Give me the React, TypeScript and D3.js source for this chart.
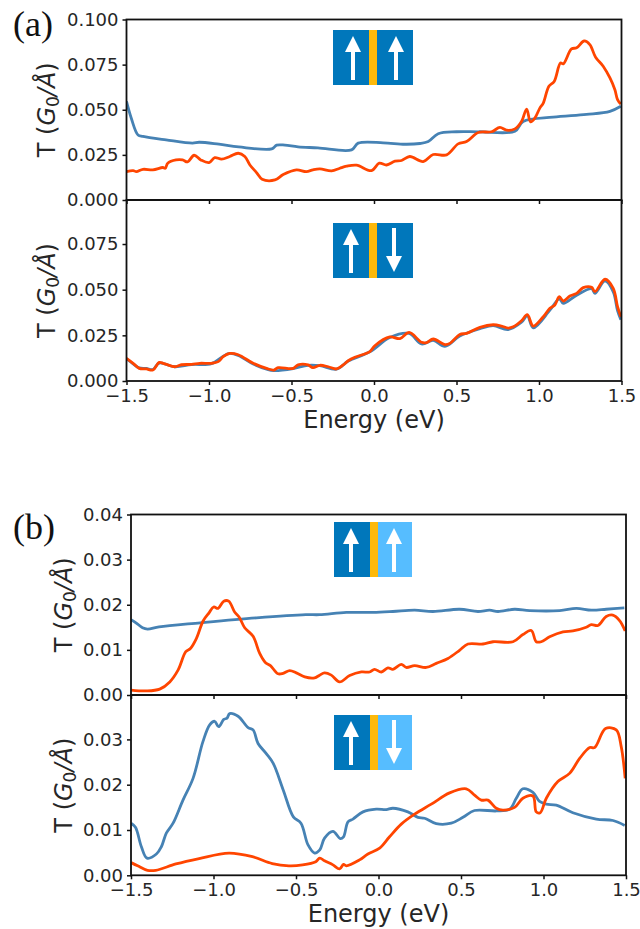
import React, { useEffect, useRef } from "react";
import * as d3 from "d3";

// energy / transmission pairs, one pair of arrays per curve
const a1BlueE = [-1.5, -1.47, -1.43, -1.4, -1.26, -1.1, -1.06, -0.94, -0.82, -0.62, -0.59, -0.54, -0.46, -0.34, -0.136, -0.096, 0.056, 0.187, 0.278, 0.329, 0.389, 0.5, 0.64, 0.854, 0.904, 1.086, 1.288, 1.43, 1.496];
const a1BlueT = [0.0546, 0.045, 0.036, 0.0352, 0.0333, 0.0315, 0.032, 0.0309, 0.0294, 0.0283, 0.0304, 0.0304, 0.0294, 0.0289, 0.0278, 0.0315, 0.0317, 0.0309, 0.0313, 0.0324, 0.0367, 0.0378, 0.0378, 0.0381, 0.0435, 0.0459, 0.0474, 0.0491, 0.0519];
const a1OrangeE = [-1.5, -1.46, -1.44, -1.4, -1.34, -1.28, -1.265, -1.25, -1.2, -1.16, -1.13, -1.09, -1.05, -1.0, -0.965, -0.924, -0.874, -0.823, -0.783, -0.752, -0.712, -0.678, -0.6, -0.55, -0.47, -0.41, -0.37, -0.328, -0.257, -0.207, -0.166, -0.106, -0.015, 0.032, 0.076, 0.127, 0.167, 0.217, 0.298, 0.359, 0.44, 0.51, 0.561, 0.632, 0.712, 0.763, 0.803, 0.854, 0.894, 0.925, 0.949, 0.975, 1.005, 1.026, 1.06, 1.092, 1.13, 1.147, 1.197, 1.228, 1.274, 1.308, 1.343, 1.389, 1.43, 1.46, 1.476, 1.496];
const a1OrangeT = [0.0157, 0.0163, 0.0157, 0.017, 0.0167, 0.018, 0.0176, 0.0204, 0.0222, 0.0222, 0.0211, 0.0248, 0.0222, 0.0207, 0.0235, 0.0226, 0.0241, 0.0259, 0.0241, 0.0194, 0.0152, 0.0115, 0.0111, 0.0141, 0.0167, 0.0157, 0.0167, 0.0172, 0.0161, 0.0176, 0.0187, 0.0193, 0.0163, 0.0204, 0.0194, 0.0215, 0.0219, 0.0241, 0.0213, 0.0252, 0.025, 0.0311, 0.0324, 0.0374, 0.0378, 0.0402, 0.0387, 0.0394, 0.0435, 0.0504, 0.0433, 0.0454, 0.0509, 0.0537, 0.063, 0.0657, 0.0759, 0.0754, 0.0837, 0.0843, 0.0881, 0.0861, 0.0791, 0.0741, 0.0676, 0.0611, 0.0556, 0.0531];

const a2OrangeE = [-1.5, -1.46, -1.423, -1.38, -1.34, -1.302, -1.278, -1.258, -1.207, -1.167, -1.106, -1.056, -0.985, -0.944, -0.914, -0.874, -0.823, -0.732, -0.651, -0.607, -0.581, -0.49, -0.46, -0.4, -0.37, -0.328, -0.277, -0.227, -0.187, -0.156, -0.116, -0.025, 0.005, 0.096, 0.157, 0.213, 0.288, 0.319, 0.359, 0.43, 0.46, 0.52, 0.561, 0.642, 0.722, 0.773, 0.813, 0.844, 0.894, 0.929, 0.965, 1.026, 1.066, 1.096, 1.123, 1.147, 1.187, 1.228, 1.268, 1.319, 1.339, 1.4, 1.45, 1.476, 1.496];
const a2OrangeT = [0.0124, 0.0097, 0.0069, 0.0066, 0.006, 0.0102, 0.0097, 0.0091, 0.0078, 0.0089, 0.0091, 0.0097, 0.0097, 0.0106, 0.0133, 0.0151, 0.0144, 0.0097, 0.0069, 0.006, 0.0073, 0.0069, 0.0088, 0.0088, 0.0073, 0.0086, 0.0078, 0.0066, 0.0088, 0.0111, 0.013, 0.0161, 0.0193, 0.0241, 0.0232, 0.0266, 0.0212, 0.021, 0.023, 0.0199, 0.0206, 0.0255, 0.0261, 0.0294, 0.0308, 0.0301, 0.029, 0.0297, 0.033, 0.0363, 0.0301, 0.0352, 0.0398, 0.0416, 0.0462, 0.0438, 0.0465, 0.048, 0.0511, 0.0513, 0.0489, 0.0557, 0.0507, 0.0407, 0.0352];
const a2BlueE = [-1.5, -1.46, -1.423, -1.38, -1.34, -1.302, -1.207, -1.106, -0.985, -0.914, -0.874, -0.823, -0.732, -0.651, -0.607, -0.49, -0.4, -0.328, -0.227, -0.156, -0.025, 0.096, 0.213, 0.288, 0.359, 0.43, 0.52, 0.642, 0.722, 0.813, 0.894, 0.929, 0.965, 1.066, 1.123, 1.147, 1.228, 1.319, 1.339, 1.4, 1.45, 1.476, 1.496];
const a2BlueT = [0.0122, 0.0094, 0.0072, 0.0069, 0.0063, 0.0098, 0.0078, 0.009, 0.0095, 0.0136, 0.0151, 0.014, 0.0093, 0.0065, 0.0057, 0.0068, 0.0086, 0.0084, 0.0065, 0.0109, 0.016, 0.0238, 0.026, 0.0203, 0.0222, 0.019, 0.0246, 0.0286, 0.0303, 0.0282, 0.0322, 0.0357, 0.0291, 0.0388, 0.045, 0.0425, 0.047, 0.0505, 0.048, 0.0548, 0.0488, 0.0385, 0.0335];

const b1BlueE = [-1.5, -1.47, -1.43, -1.4, -1.33, -1.08, -0.74, -0.44, -0.357, -0.195, -0.034, 0.087, 0.219, 0.33, 0.491, 0.603, 0.673, 0.724, 0.825, 0.916, 1.098, 1.199, 1.29, 1.38, 1.49];
const b1BlueT = [0.0167, 0.016, 0.0149, 0.0146, 0.0151, 0.016, 0.0171, 0.0178, 0.0178, 0.0183, 0.0183, 0.0185, 0.0188, 0.0185, 0.019, 0.0185, 0.0188, 0.0185, 0.019, 0.0187, 0.0187, 0.0192, 0.0188, 0.019, 0.0193];
const b1OrangeE = [-1.5, -1.407, -1.326, -1.265, -1.215, -1.168, -1.14, -1.104, -1.063, -1.027, -0.999, -0.972, -0.938, -0.908, -0.872, -0.845, -0.811, -0.76, -0.72, -0.686, -0.655, -0.609, -0.578, -0.538, -0.498, -0.447, -0.387, -0.357, -0.327, -0.286, -0.236, -0.175, -0.104, -0.054, -0.024, 0.017, 0.057, 0.087, 0.138, 0.168, 0.219, 0.289, 0.35, 0.421, 0.491, 0.542, 0.633, 0.694, 0.815, 0.875, 0.926, 0.956, 0.986, 1.037, 1.118, 1.178, 1.259, 1.29, 1.33, 1.38, 1.42, 1.461, 1.495];
const b1OrangeT = [0.0011, 0.0009, 0.0013, 0.0029, 0.0055, 0.0096, 0.0103, 0.0125, 0.0164, 0.0182, 0.0195, 0.0192, 0.0208, 0.0208, 0.0184, 0.0173, 0.0149, 0.013, 0.0092, 0.0072, 0.0065, 0.0047, 0.0048, 0.0054, 0.0049, 0.004, 0.0038, 0.0044, 0.0049, 0.0044, 0.0029, 0.0043, 0.0051, 0.0051, 0.0057, 0.0051, 0.006, 0.0057, 0.0068, 0.0061, 0.0065, 0.0061, 0.007, 0.0081, 0.0099, 0.0113, 0.0113, 0.0118, 0.0118, 0.0134, 0.0143, 0.0118, 0.0118, 0.0129, 0.014, 0.0142, 0.015, 0.0156, 0.0154, 0.0174, 0.0177, 0.0165, 0.0142];

const b2BlueE = [-1.5, -1.473, -1.437, -1.403, -1.346, -1.316, -1.286, -1.245, -1.185, -1.124, -1.064, -1.023, -0.993, -0.969, -0.938, -0.918, -0.902, -0.851, -0.79, -0.76, -0.73, -0.679, -0.638, -0.577, -0.516, -0.47, -0.427, -0.387, -0.356, -0.327, -0.276, -0.232, -0.212, -0.185, -0.155, -0.094, -0.014, 0.047, 0.087, 0.178, 0.239, 0.279, 0.35, 0.441, 0.512, 0.582, 0.714, 0.795, 0.835, 0.875, 0.936, 0.976, 1.017, 1.077, 1.178, 1.32, 1.421, 1.492];
const b2BlueT = [0.0115, 0.0106, 0.0063, 0.0038, 0.0047, 0.0063, 0.0093, 0.0115, 0.0166, 0.0214, 0.0295, 0.0332, 0.034, 0.0328, 0.0344, 0.0347, 0.0357, 0.0351, 0.0326, 0.0321, 0.0291, 0.0268, 0.0247, 0.0188, 0.0129, 0.0115, 0.0067, 0.0049, 0.0056, 0.0082, 0.0097, 0.0081, 0.0085, 0.0118, 0.0124, 0.014, 0.0146, 0.0145, 0.0148, 0.014, 0.0128, 0.0126, 0.0114, 0.0115, 0.0128, 0.0143, 0.0142, 0.0146, 0.017, 0.0191, 0.0183, 0.0163, 0.0157, 0.0155, 0.0138, 0.0124, 0.0121, 0.011];
const b2OrangeE = [-1.5, -1.46, -1.4, -1.35, -1.228, -1.087, -0.906, -0.764, -0.644, -0.543, -0.46, -0.38, -0.356, -0.327, -0.276, -0.236, -0.212, -0.195, -0.115, -0.064, 0.007, 0.067, 0.138, 0.219, 0.32, 0.431, 0.532, 0.582, 0.623, 0.663, 0.714, 0.754, 0.825, 0.875, 0.936, 0.956, 0.98, 1.017, 1.087, 1.158, 1.219, 1.28, 1.31, 1.376, 1.441, 1.471, 1.495];
const b2OrangeT = [0.0028, 0.0021, 0.0011, 0.0011, 0.0025, 0.0037, 0.0049, 0.0041, 0.0026, 0.0021, 0.0023, 0.003, 0.0038, 0.0032, 0.0023, 0.0014, 0.0024, 0.0021, 0.0034, 0.0047, 0.006, 0.0085, 0.0113, 0.0135, 0.0157, 0.0182, 0.0191, 0.0177, 0.0166, 0.0166, 0.0148, 0.0144, 0.015, 0.017, 0.0175, 0.014, 0.0138, 0.017, 0.0207, 0.0225, 0.0258, 0.0282, 0.0282, 0.0324, 0.0321, 0.0284, 0.0214];

const xTicks = [-1.5, -1.0, -0.5, 0.0, 0.5, 1.0, 1.5];
const aTicks = [0, 0.025, 0.05, 0.075, 0.1];
const bTicks = [0, 0.01, 0.02, 0.03, 0.04];

const BLUE = "#4682b4";
const ORANGE = "#ff4500";
const TEXT = "#262626";
const FONT = "'DejaVu Sans', sans-serif";

const App = () => {
  const svgRef = useRef<SVGSVGElement>(null);

  useEffect(() => {
    const svg = d3.select(svgRef.current);
    svg.selectAll("*").remove();

    const line = (x: any, y: any) =>
      d3.line<[number, number]>()
        .curve(d3.curveCatmullRom.alpha(0.5))
        .x((d) => x(d[0]))
        .y((d) => y(d[1]));

    const drawPanel = (p: any, i: number) => {
      const x = d3.scaleLinear().domain([-1.5, 1.5]).range([p.left, p.right]);
      const y = d3.scaleLinear().domain([0, p.yMax]).range([p.bottom, p.top]);
      const clip = "clip" + i;
      svg.append("clipPath").attr("id", clip).append("rect")
        .attr("x", p.left).attr("y", p.top)
        .attr("width", p.right - p.left).attr("height", p.bottom - p.top);

      const curves = [[p.blueE, p.blueT, BLUE], [p.orangeE, p.orangeT, ORANGE]];
      curves.forEach(([es, ts, colour]: any) => {
        svg.append("path")
          .datum(d3.zip(es, ts) as [number, number][])
          .attr("clip-path", "url(#" + clip + ")")
          .attr("fill", "none")
          .attr("stroke", colour)
          .attr("stroke-width", 2.8)
          .attr("stroke-linejoin", "round")
          .attr("d", line(x, y));
      });

      svg.append("rect")
        .attr("x", p.left).attr("y", p.top)
        .attr("width", p.right - p.left).attr("height", p.bottom - p.top)
        .attr("fill", "none").attr("stroke", "#111").attr("stroke-width", 1.8);

      const xAxis = svg.append("g")
        .attr("transform", "translate(0," + p.bottom + ")")
        .call(
          d3.axisBottom(x).tickValues(xTicks).tickSize(4).tickPadding(4)
            .tickFormat(p.showX ? (d: any) => d3.format(".1f")(d).replace("-", "\u2212") : () => "")
        );
      const yAxis = svg.append("g")
        .attr("transform", "translate(" + p.left + ",0)")
        .call(
          d3.axisLeft(y).tickValues(p.yTicks).tickSize(4).tickPadding(4)
            .tickFormat((d: any) => d3.format(p.yFormat)(d))
        );
      [xAxis, yAxis].forEach((g: any) => {
        g.select(".domain").remove();
        g.selectAll("line").attr("stroke", "#111").attr("stroke-width", 1.5);
        g.selectAll("text").attr("fill", TEXT).attr("font-size", 18).attr("font-family", FONT);
      });

      const label = svg.append("text")
        .attr("transform", "translate(" + p.labelX + "," + (p.top + p.bottom) / 2 + ") rotate(-90)")
        .attr("text-anchor", "middle")
        .attr("fill", TEXT).attr("font-size", 24).attr("font-family", FONT);
      label.append("tspan").text("T (");
      label.append("tspan").attr("font-style", "italic").text("G");
      label.append("tspan").attr("font-size", 17).attr("dy", 4).text("0");
      label.append("tspan").attr("font-style", "italic").attr("dy", -4).text("/Å");
      label.append("tspan").text(")");

      if (p.showX) {
        svg.append("text")
          .attr("x", (p.left + p.right) / 2).attr("y", p.bottom + 47)
          .attr("text-anchor", "middle")
          .attr("fill", TEXT).attr("font-size", 24).attr("font-family", FONT)
          .text("Energy (eV)");
      }
    };

    const panels = [
      { left: 126.5, right: 621.5, top: 19.5, bottom: 200, yMax: 0.1, yTicks: aTicks, yFormat: ".3f", labelX: 55, showX: false, blueE: a1BlueE, blueT: a1BlueT, orangeE: a1OrangeE, orangeT: a1OrangeT },
      { left: 126.5, right: 621.5, top: 200, bottom: 381, yMax: 0.0991, yTicks: aTicks.slice(0, 4), yFormat: ".3f", labelX: 55, showX: true, blueE: a2BlueE, blueT: a2BlueT, orangeE: a2OrangeE, orangeT: a2OrangeT },
      { left: 131, right: 626, top: 514.5, bottom: 695, yMax: 0.04, yTicks: bTicks, yFormat: ".2f", labelX: 72, showX: false, blueE: b1BlueE, blueT: b1BlueT, orangeE: b1OrangeE, orangeT: b1OrangeT },
      { left: 131, right: 626, top: 695, bottom: 875.3, yMax: 0.0398, yTicks: bTicks.slice(0, 4), yFormat: ".2f", labelX: 72, showX: true, blueE: b2BlueE, blueT: b2BlueT, orangeE: b2OrangeE, orangeT: b2OrangeT },
    ];
    panels.forEach(drawPanel);

    // spin-configuration icons
    const arrow = (cx: number, from: number, to: number, headAt: number) => {
      svg.append("rect")
        .attr("x", cx - 2).attr("width", 4)
        .attr("y", Math.min(from, headAt)).attr("height", Math.abs(headAt - from))
        .attr("fill", "#fff");
      svg.append("path")
        .attr("d", d3.line()([[cx - 8, headAt], [cx + 8, headAt], [cx, to]]) + "Z")
        .attr("fill", "#fff");
    };
    const icon = (x: number, y: number, w: number, leftW: number, rightFill: string, down: boolean, lx: number, rx: number) => {
      svg.append("rect").attr("x", x).attr("y", y).attr("width", leftW).attr("height", 55).attr("fill", "#0077bb");
      svg.append("rect").attr("x", x + leftW + 8).attr("y", y).attr("width", w - leftW - 8).attr("height", 55).attr("fill", rightFill);
      svg.append("rect").attr("x", x + leftW).attr("y", y).attr("width", 8).attr("height", 55).attr("fill", "#fdb90a");
      arrow(lx, y + 50, y + 6, y + 22);
      if (down) arrow(rx, y + 5, y + 49, y + 33);
      else arrow(rx, y + 50, y + 6, y + 22);
    };
    icon(333, 30, 80, 36, "#0077bb", false, 353, 396);
    icon(333, 223, 80, 36, "#0077bb", true, 351, 394);
    icon(334, 522, 78, 36, "#56bdff", false, 351, 394);
    icon(334, 715, 78, 36, "#56bdff", true, 351, 394);

    [["(a)", 13, 36], ["(b)", 13, 539]].forEach(([t, x, y]: any) => {
      svg.append("text")
        .attr("x", x).attr("y", y)
        .attr("fill", "#111").attr("font-size", 36)
        .attr("font-family", "'Liberation Serif', serif")
        .text(t);
    });
  }, []);

  return (
    <svg
      ref={svgRef}
      width={640}
      height={929}
      style={{ position: "absolute", left: 0, top: 0, background: "#fff" }}
    ></svg>
  );
};

export default App;
